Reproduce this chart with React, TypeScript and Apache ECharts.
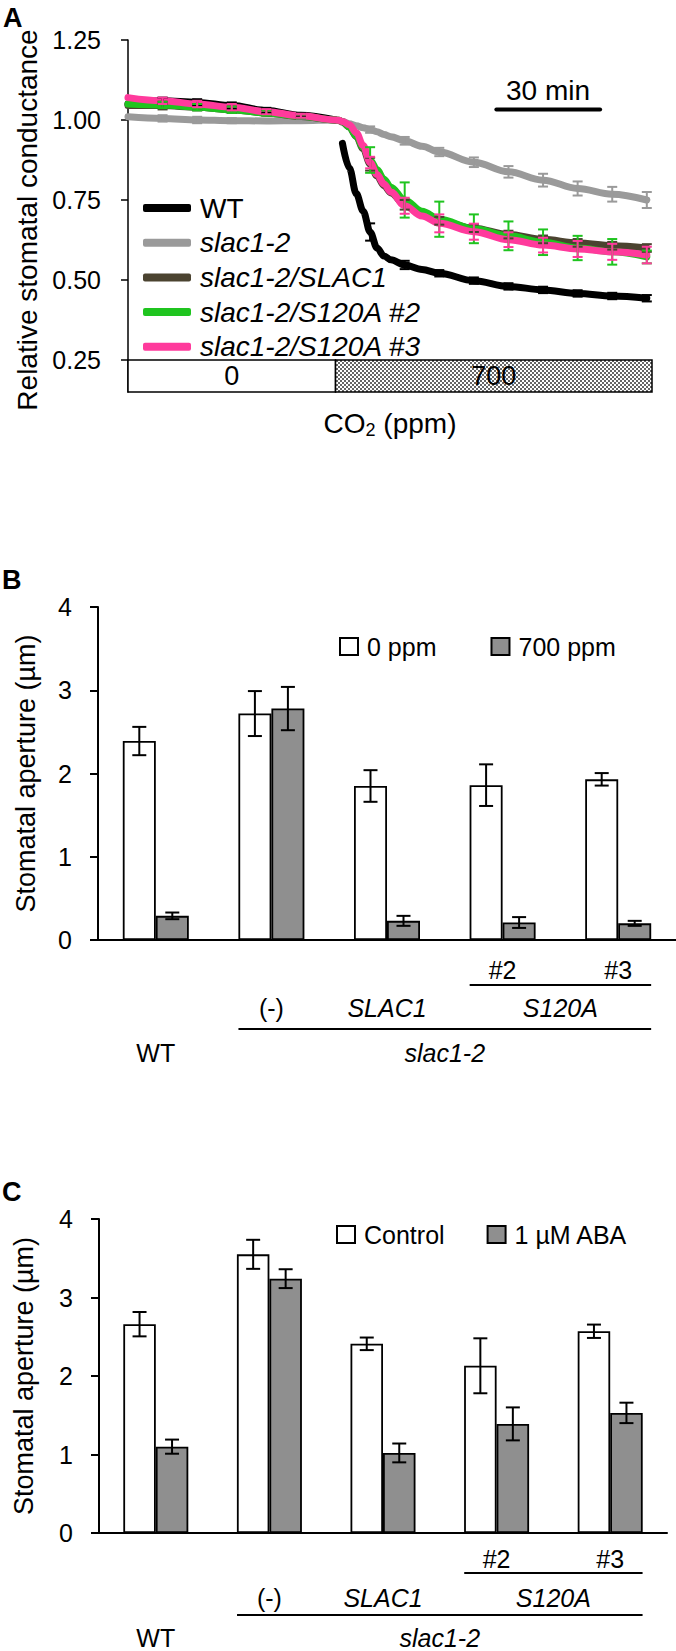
import React, { useEffect, useRef } from 'react';
import * as echarts from 'echarts';

const FONT = '"Liberation Sans", Arial, Helvetica, sans-serif';

// ---------------- Panel A: relative stomatal conductance time course ----------------
const timeA = [0, 10, 20, 30, 40, 50, 60, 61, 62, 64, 66, 68, 70, 72, 74, 76, 80, 85, 90, 100, 110, 120, 130, 140, 150];
const wtA = [1.05, 1.06, 1.055, 1.045, 1.03, 1.015, 1.0, null, 0.927, 0.85, 0.77, 0.715, 0.65, 0.6, 0.575, 0.563, 0.547, 0.533, 0.521, 0.498, 0.48, 0.469, 0.458, 0.45, 0.443];
const slac12A = [1.01, 1.005, 1.0, 0.998, 0.997, 0.998, 1.0, 0.998, 0.995, 0.988, 0.982, 0.976, 0.97, 0.963, 0.955, 0.948, 0.935, 0.918, 0.9, 0.868, 0.838, 0.812, 0.786, 0.768, 0.75];
const slac1A = [1.045, 1.045, 1.04, 1.032, 1.022, 1.011, 1.0, 0.999, 0.993, 0.978, 0.948, 0.91, 0.862, 0.825, 0.795, 0.772, 0.735, 0.705, 0.685, 0.662, 0.642, 0.627, 0.616, 0.607, 0.6];
const s2A = [1.05, 1.047, 1.04, 1.032, 1.022, 1.012, 1.0, 0.999, 0.995, 0.978, 0.95, 0.915, 0.875, 0.845, 0.815, 0.79, 0.75, 0.715, 0.69, 0.66, 0.638, 0.618, 0.6, 0.588, 0.572];
const s3A = [1.07, 1.06, 1.05, 1.04, 1.026, 1.013, 1.0, 0.999, 0.995, 0.985, 0.96, 0.92, 0.867, 0.83, 0.8, 0.775, 0.732, 0.7, 0.677, 0.651, 0.626, 0.609, 0.597, 0.588, 0.578];

const errTimesA = [10, 20, 30, 40, 50, 70, 80, 90, 100, 110, 120, 130, 140, 150];
const wtErr = [0.01, 0.01, 0.01, 0.008, 0.006, 0.027, 0.013, 0.01, 0.01, 0.01, 0.01, 0.01, 0.01, 0.01];
const slac12Err = [0.01, 0.01, 0.008, 0.006, 0.005, 0.01, 0.012, 0.013, 0.015, 0.018, 0.02, 0.022, 0.023, 0.025];
const slac1Err = [0.012, 0.01, 0.01, 0.008, 0.006, 0.02, 0.015, 0.012, 0.012, 0.012, 0.012, 0.012, 0.012, 0.012];
const s2Err = [0.01, 0.01, 0.01, 0.008, 0.006, 0.04, 0.055, 0.055, 0.045, 0.045, 0.04, 0.038, 0.04, 0.02];
const s3Err = [0.01, 0.01, 0.01, 0.008, 0.006, 0.018, 0.025, 0.028, 0.025, 0.023, 0.023, 0.025, 0.025, 0.026];

const namesA = ['WT', 'slac1-2', 'slac1-2/SLAC1', 'slac1-2/S120A #2', 'slac1-2/S120A #3'];
const yTicksA = [0.25, 0.5, 0.75, 1.0, 1.25];
const co2Labels = ['0', '700'];
const co2Bounds = [0, 60, 151.5];
const scaleBarTimes = [106.5, 136.5];
const scaleBarLevel = 1.033;

// ---------------- Panel B: stomatal aperture, CO2 ----------------
const categories = ['WT', '(-)', 'SLAC1', '#2', '#3'];
const namesB = ['0 ppm', '700 ppm'];
const b0 = [2.39, 2.72, 1.85, 1.86, 1.93];
const b0Err = [0.17, 0.27, 0.19, 0.25, 0.075];
const b700 = [0.29, 2.78, 0.23, 0.21, 0.2];
const b700Err = [0.04, 0.26, 0.06, 0.065, 0.03];

// ---------------- Panel C: stomatal aperture, ABA ----------------
const namesC = ['Control', '1 µM ABA'];
const cCtrl = [2.66, 3.55, 2.41, 2.13, 2.57];
const cCtrlErr = [0.155, 0.185, 0.08, 0.35, 0.085];
const cAba = [1.1, 3.24, 1.02, 1.39, 1.53];
const cAbaErr = [0.09, 0.12, 0.12, 0.21, 0.13];

// ---------------- layout ----------------
const GA = { left: 128, top: 40, width: 524, height: 352 };
const GB = { left: 98, top: 607, width: 578, height: 333 };
const GC = { left: 99, top: 1219, width: 568, height: 314 };

const colorsA: Record<string, string> = {
  'WT': '#000000',
  'slac1-2': '#9a9a9a',
  'slac1-2/SLAC1': '#4b4330',
  'slac1-2/S120A #2': '#1fc41f',
  'slac1-2/S120A #3': '#ff3a9c',
};

function pairs(t: number[], v: (number | null)[]) {
  return t.map((x, i) => [x, v[i] == null ? '-' : v[i]]);
}

function errDataA(v: (number | null)[], e: number[]) {
  return errTimesA.map((t, k) => {
    const m = v[timeA.indexOf(t)] as number;
    return [t, m - e[k], m + e[k]];
  });
}

function errDataBar(v: number[], e: number[]) {
  return v.map((m, i) => [i, m - e[i], m + e[i]]);
}

function errRender(color: string, cap: number, offset: number, lw: number) {
  return (params: any, api: any) => {
    const lo = api.coord([api.value(0), api.value(1)]);
    const hi = api.coord([api.value(0), api.value(2)]);
    const x = lo[0] + offset;
    const st = { stroke: color, lineWidth: lw };
    return {
      type: 'group',
      children: [
        { type: 'line', shape: { x1: x, y1: lo[1], x2: x, y2: hi[1] }, style: st },
        { type: 'line', shape: { x1: x - cap, y1: lo[1], x2: x + cap, y2: lo[1] }, style: st },
        { type: 'line', shape: { x1: x - cap, y1: hi[1], x2: x + cap, y2: hi[1] }, style: st },
      ],
    };
  };
}

function makeChecker() {
  const c = document.createElement('canvas');
  c.width = 4;
  c.height = 4;
  const ctx = c.getContext('2d')!;
  ctx.fillStyle = '#ffffff';
  ctx.fillRect(0, 0, 4, 4);
  ctx.fillStyle = '#666666';
  ctx.fillRect(0, 0, 2, 2);
  ctx.fillRect(2, 2, 2, 2);
  return c;
}

function txt(text: string, x: number, y: number, size: number, opts: any = {}) {
  return {
    type: 'text',
    x,
    y,
    silent: true,
    style: {
      text,
      fontSize: size,
      fontFamily: FONT,
      fontStyle: opts.italic ? 'italic' : 'normal',
      fontWeight: opts.bold ? 'bold' : 'normal',
      fill: '#000',
      align: opts.align || 'center',
      verticalAlign: 'middle',
      rich: opts.rich,
    },
  };
}

function hline(x1: number, x2: number, y: number) {
  return { type: 'line', silent: true, shape: { x1, y1: y, x2, y2: y }, style: { stroke: '#000', lineWidth: 2 } };
}

function groupLabels(G: { left: number; width: number; top: number; height: number }, rows: number[]) {
  const band = G.width / categories.length;
  const cx = (i: number) => G.left + band * (i + 0.5);
  const half = band * 0.285;
  return [
    txt(categories[3], cx(3), rows[0], 25),
    txt(categories[4], cx(4), rows[0], 25),
    hline(cx(3) - half, cx(4) + half, rows[1]),
    txt(categories[1], cx(1), rows[2], 25),
    txt(categories[2], cx(2), rows[2], 25, { italic: true }),
    txt('S120A', (cx(3) + cx(4)) / 2, rows[2], 25, { italic: true }),
    hline(cx(1) - half, cx(4) + half, rows[3]),
    txt(categories[0], cx(0), rows[4], 25),
    txt('slac1-2', (cx(1) + cx(4)) / 2, rows[4], 25, { italic: true }),
  ];
}

function barYAxis(gridIndex: number, nameGap: number) {
  return {
    gridIndex,
    type: 'value',
    min: 0,
    max: 4,
    interval: 1,
    name: 'Stomatal aperture (µm)',
    nameLocation: 'middle',
    nameGap,
    nameTextStyle: { fontSize: 27, color: '#000', fontFamily: FONT },
    axisLine: { show: true, lineStyle: { color: '#000', width: 2 } },
    axisTick: { show: true, length: 8, lineStyle: { color: '#000', width: 2 } },
    axisLabel: { fontSize: 25, color: '#000', fontFamily: FONT, margin: 26 },
    splitLine: { show: false },
  };
}

function barXAxis(gridIndex: number) {
  return {
    gridIndex,
    type: 'category',
    data: categories,
    axisLine: { show: true, lineStyle: { color: '#000', width: 2 } },
    axisTick: { show: false },
    axisLabel: { show: false },
  };
}

function buildOption() {
  const checker = makeChecker();
  const seriesA: any[] = [];
  const orderA: [string, (number | null)[], number[]][] = [
    [namesA[1], slac12A, slac12Err],
    [namesA[0], wtA, wtErr],
    [namesA[2], slac1A, slac1Err],
    [namesA[3], s2A, s2Err],
    [namesA[4], s3A, s3Err],
  ];
  orderA.forEach(([name, vals]) => {
    seriesA.push({
      type: 'line',
      name,
      xAxisIndex: 0,
      yAxisIndex: 0,
      data: pairs(timeA, vals),
      symbol: 'none',
      showSymbol: false,
      smooth: 0.35,
      smoothMonotone: 'x',
      connectNulls: false,
      lineStyle: { color: colorsA[name], width: 7, cap: 'round', join: 'round' },
      itemStyle: { color: colorsA[name] },
      z: 2,
      silent: true,
    });
  });
  orderA.forEach(([name, vals, errs]) => {
    seriesA.push({
      type: 'custom',
      name: name + ' err',
      xAxisIndex: 0,
      yAxisIndex: 0,
      data: errDataA(vals, errs),
      encode: { x: 0, y: [1, 2] },
      renderItem: errRender(colorsA[name], 5, 0, 2),
      z: 3,
      silent: true,
    });
  });
  // scale bar + CO2 phase box
  seriesA.push({
    type: 'line',
    name: '30 min',
    xAxisIndex: 0,
    yAxisIndex: 0,
    data: scaleBarTimes.map((t) => [t, scaleBarLevel]),
    symbol: 'none',
    lineStyle: { color: '#000', width: 4, cap: 'round' },
    silent: true,
    z: 4,
    markArea: {
      silent: true,
      data: [
        [
          {
            name: co2Labels[0],
            xAxis: co2Bounds[0],
            yAxis: 0.15,
            itemStyle: { color: '#ffffff', borderColor: '#000', borderWidth: 1.5 },
          },
          { xAxis: co2Bounds[1], yAxis: 0.25 },
        ],
        [
          {
            name: co2Labels[1],
            xAxis: co2Bounds[1],
            yAxis: 0.15,
            itemStyle: {
              color: { image: checker, repeat: 'repeat', imageWidth: 4, imageHeight: 4 },
              borderColor: '#000',
              borderWidth: 1.5,
            },
          },
          { xAxis: co2Bounds[2], yAxis: 0.25 },
        ],
      ],
      label: { show: true, position: 'inside', fontSize: 27, color: '#000', fontFamily: FONT, formatter: '{b}' },
    },
  });

  const barSeries = (xi: number, names: string[], v1: number[], e1: number[], v2: number[], e2: number[], bw: number) => [
    {
      type: 'bar',
      name: names[0],
      xAxisIndex: xi,
      yAxisIndex: xi,
      data: v1,
      barWidth: bw,
      barGap: '0%',
      itemStyle: { color: '#ffffff', borderColor: '#000', borderWidth: 1.8 },
      silent: true,
    },
    {
      type: 'bar',
      name: names[1],
      xAxisIndex: xi,
      yAxisIndex: xi,
      data: v2,
      barWidth: bw,
      barGap: '0%',
      itemStyle: { color: '#8f8f8f', borderColor: '#000', borderWidth: 1.8 },
      silent: true,
    },
    {
      type: 'custom',
      name: names[0] + ' err',
      xAxisIndex: xi,
      yAxisIndex: xi,
      data: errDataBar(v1, e1),
      encode: { x: 0, y: [1, 2] },
      renderItem: errRender('#000', 7, -bw / 2, 2),
      z: 5,
      silent: true,
    },
    {
      type: 'custom',
      name: names[1] + ' err',
      xAxisIndex: xi,
      yAxisIndex: xi,
      data: errDataBar(v2, e2),
      encode: { x: 0, y: [1, 2] },
      renderItem: errRender('#000', 7, bw / 2, 2),
      z: 5,
      silent: true,
    },
  ];

  const graphic: any[] = [
    txt('A', 3, 18, 27, { bold: true, align: 'left' }),
    txt('B', 2, 580, 27, { bold: true, align: 'left' }),
    txt('C', 2, 1192, 27, { bold: true, align: 'left' }),
    txt('30 min', 548, 90, 28),
    txt('CO{s|2} (ppm)', 390, 423, 28, { rich: { s: { fontSize: 18, fontFamily: FONT, padding: [14, 0, 0, 0] } } }),
    ...groupLabels(GB, [970, 985, 1008, 1029, 1053]),
    ...groupLabels(GC, [1559, 1573, 1598, 1615, 1638]),
  ];

  return {
    animation: false,
    backgroundColor: '#ffffff',
    textStyle: { fontFamily: FONT },
    grid: [
      { left: GA.left, top: GA.top, width: GA.width, height: GA.height },
      { left: GB.left, top: GB.top, width: GB.width, height: GB.height },
      { left: GC.left, top: GC.top, width: GC.width, height: GC.height },
    ],
    xAxis: [
      { gridIndex: 0, type: 'value', min: co2Bounds[0], max: co2Bounds[2], show: false },
      barXAxis(1),
      barXAxis(2),
    ],
    yAxis: [
      {
        gridIndex: 0,
        type: 'value',
        min: 0.15,
        max: 1.25,
        name: 'Relative stomatal conductance',
        nameLocation: 'middle',
        nameGap: 84,
        nameTextStyle: { fontSize: 28, color: '#000', fontFamily: FONT, padding: [0, 0, 0, -8] },
        axisLine: { show: true, lineStyle: { color: '#000', width: 1.5 } },
        axisTick: { show: true, length: 7, customValues: yTicksA, lineStyle: { color: '#000', width: 1.5 } },
        axisLabel: {
          customValues: yTicksA,
          formatter: (v: number) => v.toFixed(2),
          fontSize: 25,
          color: '#000',
          fontFamily: FONT,
          margin: 27,
        },
        splitLine: { show: false },
      },
      barYAxis(1, 59),
      barYAxis(2, 62),
    ],
    legend: [
      {
        orient: 'vertical',
        left: 138,
        top: 188,
        data: namesA,
        icon: 'roundRect',
        itemWidth: 48,
        itemHeight: 8,
        itemGap: 4.7,
        selectedMode: false,
        textStyle: {
          fontFamily: FONT,
          fontSize: 28,
          color: '#000',
          lineHeight: 30,
          padding: [0, 0, 0, 4],
          rich: { i: { fontStyle: 'italic', fontSize: 28, fontFamily: FONT, color: '#000', lineHeight: 30 } },
        },
        formatter: (n: string) => (n === 'WT' ? n : '{i|' + n + '}'),
      },
      {
        orient: 'horizontal',
        left: 334,
        top: 629,
        data: namesB,
        icon: 'rect',
        itemWidth: 18,
        itemHeight: 17,
        itemGap: 54,
        selectedMode: false,
        textStyle: { fontFamily: FONT, fontSize: 25, color: '#000', padding: [0, 0, 0, 4] },
      },
      {
        orient: 'horizontal',
        left: 331,
        top: 1217,
        data: namesC,
        icon: 'rect',
        itemWidth: 18,
        itemHeight: 17,
        itemGap: 42,
        selectedMode: false,
        textStyle: { fontFamily: FONT, fontSize: 25, color: '#000', padding: [0, 0, 0, 4] },
      },
    ],
    graphic,
    series: [
      ...seriesA,
      ...barSeries(1, namesB, b0, b0Err, b700, b700Err, 33),
      ...barSeries(2, namesC, cCtrl, cCtrlErr, cAba, cAbaErr, 32.5),
    ],
  };
}

export default function App() {
  const ref = useRef<HTMLDivElement>(null);
  useEffect(() => {
    const chart = echarts.init(ref.current!, null, { renderer: 'svg' });
    chart.setOption(buildOption() as any);
    return () => chart.dispose();
  }, []);
  return (
    <div
      ref={ref}
      style={{ position: 'absolute', left: 0, top: 0, width: 676, height: 1651, background: '#fff' }}
    />
  );
}
